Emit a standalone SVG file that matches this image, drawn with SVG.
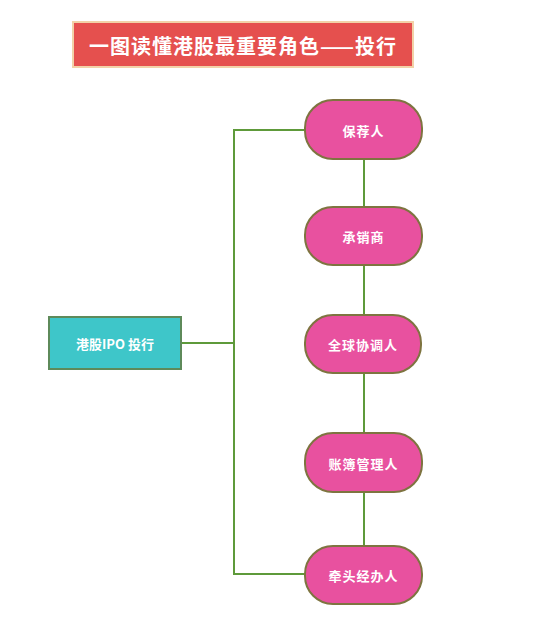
<svg xmlns="http://www.w3.org/2000/svg" width="551" height="628" viewBox="0 0 551 628">
<style>
.t{font-family:"Noto Sans CJK SC","Noto Sans",sans-serif;font-weight:bold;fill:#fff;text-anchor:middle;dominant-baseline:central}
.pill{fill:#E8519F;stroke:#7E7440;stroke-width:2}
.ln{fill:none;stroke:#5E9A3A;stroke-width:2}
</style>
<rect width="551" height="628" fill="#fff"/>
<g id="title">
<rect x="73" y="22" width="340" height="45" fill="#E5504E" stroke="#F2D2A8" stroke-width="2"/>
<text class="t" x="243" y="45" font-size="20" letter-spacing="1">一图读懂港股最重要角色——投行</text>
</g>
<g id="connectors">
<polyline class="ln" points="181,343 234,343"/>
<polyline class="ln" points="305,130 234,130 234,574 305,574"/>
<line class="ln" x1="364" y1="159" x2="364" y2="207"/>
<line class="ln" x1="364" y1="265" x2="364" y2="315"/>
<line class="ln" x1="364" y1="373" x2="364" y2="433"/>
<line class="ln" x1="364" y1="492" x2="364" y2="546"/>
</g>
<g id="ipo">
<rect x="49" y="317" width="132" height="52" fill="#3EC6C9" stroke="#5E8A5A" stroke-width="2"/>
<text class="t" x="115" y="343" font-size="13">港股IPO 投行</text>
</g>
<g id="n1"><rect class="pill" x="305" y="100" width="117" height="59" rx="28"/><text class="t" x="363.5" y="130" font-size="13" letter-spacing="1">保荐人</text></g>
<g id="n2"><rect class="pill" x="305" y="207" width="117" height="58" rx="28"/><text class="t" x="363.5" y="236" font-size="13" letter-spacing="1">承销商</text></g>
<g id="n3"><rect class="pill" x="305" y="315" width="116" height="58" rx="28"/><text class="t" x="363" y="344" font-size="13" letter-spacing="1">全球协调人</text></g>
<g id="n4"><rect class="pill" x="305" y="433" width="117" height="59" rx="28"/><text class="t" x="363.5" y="463" font-size="13" letter-spacing="1">账簿管理人</text></g>
<g id="n5"><rect class="pill" x="305" y="546" width="117" height="58" rx="28"/><text class="t" x="363.5" y="575" font-size="13" letter-spacing="1">牵头经办人</text></g>
</svg>
